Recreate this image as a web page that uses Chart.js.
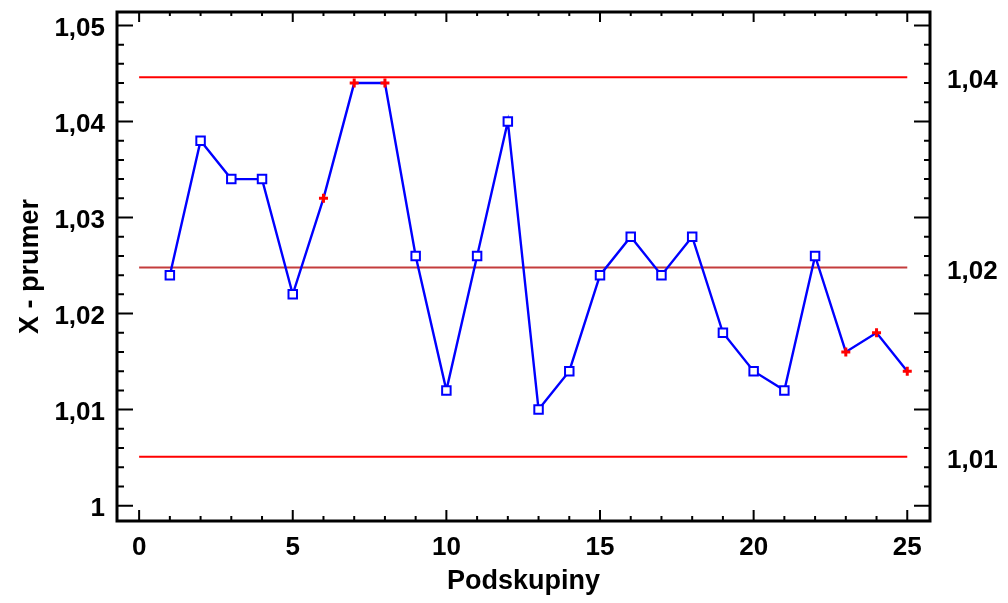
<!DOCTYPE html>
<html><head><meta charset="utf-8">
<script src="https://cdn.jsdelivr.net/npm/chart.js@4.4.1/dist/chart.umd.min.js"></script>
<style>html,body{margin:0;background:#fff}</style>
</head><body>
<canvas id="c" width="1008" height="603"></canvas>
<script>
// data
const podskupiny = [1,2,3,4,5,6,7,8,9,10,11,12,13,14,15,16,17,18,19,20,21,22,23,24,25];
const xPrumer = [1.024,1.038,1.034,1.034,1.022,1.032,1.044,1.044,1.026,1.012,1.026,1.040,1.010,
                 1.014,1.024,1.028,1.024,1.028,1.018,1.014,1.012,1.026,1.016,1.018,1.014];
const flagged = [6,7,8,23,24,25];          // points drawn as red crosses
const UCL = 1.0446, CL = 1.0248, LCL = 1.0051;
const xTicks = [0,5,10,15,20,25];
const yTicks = [1,1.01,1.02,1.03,1.04,1.05];
const rightTicks = [LCL, CL, UCL];
const rightLabels = ['1,01','1,02','1,04'];

const FONT = {family:"'Liberation Sans', Arial, sans-serif", size:26, weight:'bold'};
const TFONT = {family:"'Liberation Sans', Arial, sans-serif", size:27, weight:'bold'};
const fmt = v => String(Math.round(v*100)/100).replace('.', ',');

// inward tick marks + frame, drawn from the chart scales
const frameTicks = {
  id:'frameTicks',
  afterDraw(chart){
    const {ctx, chartArea:a, scales:{x, y}} = chart;
    ctx.save();
    ctx.strokeStyle = '#000';
    ctx.lineWidth = 2;
    ctx.beginPath();
    for(let v=0; v<=25; v++){
      const px = x.getPixelForValue(v), major = v%5===0;
      ctx.moveTo(px, a.bottom); ctx.lineTo(px, a.bottom-(major?11:5));
      ctx.moveTo(px, a.top);    ctx.lineTo(px, a.top+(major?10:4));
    }
    for(let i=0; i<=25; i++){
      const py = y.getPixelForValue(1+i*0.002), major = i%5===0;
      ctx.moveTo(a.left, py);  ctx.lineTo(a.left+(major?16:7), py);
      ctx.moveTo(a.right, py); ctx.lineTo(a.right-(major?16:6), py);
    }
    ctx.stroke();
    ctx.lineWidth = 3;
    ctx.strokeRect(a.left, a.top, a.width, a.height);
    ctx.restore();
  }
};

const limitLine = (v, color) => ({
  data:[{x:0,y:v},{x:25,y:v}], borderColor:color, borderWidth:2,
  pointRadius:0, order:1
});
const noPadV = s => { s.paddingTop = 0; s.paddingBottom = 0; };
const isFlag = c => flagged.includes(podskupiny[c.dataIndex]);

new Chart(document.getElementById('c').getContext('2d'), {
  type:'line',
  data:{ datasets:[
    { data: podskupiny.map((p,i)=>({x:p, y:xPrumer[i]})),
      borderColor:'#0000ff', borderWidth:2.4, order:0,
      pointStyle: c => isFlag(c) ? 'cross' : 'rect',
      pointRadius: c => isFlag(c) ? 4.5 : 6,
      pointBorderWidth: c => isFlag(c) ? 3 : 2,
      pointBorderColor: c => isFlag(c) ? '#ff0000' : '#0000ff',
      pointBackgroundColor:'#ffffff' },
    limitLine(UCL, '#ff0000'),
    limitLine(CL, '#c43c3c'),
    limitLine(LCL, '#ff0000')
  ]},
  options:{
    responsive:false, animation:false,
    layout:{ padding:{top:12, left:0, right:0, bottom:0} },
    plugins:{ legend:{display:false}, tooltip:{enabled:false} },
    scales:{
      x:{ type:'linear', position:'bottom', min:-0.72, max:25.74,
        grid:{display:false, drawTicks:false}, border:{display:false},
        ticks:{ color:'#000', font:FONT, padding:11, maxRotation:0, callback:v=>String(v) },
        afterBuildTicks: s => { s.ticks = xTicks.map(v=>({value:v})); },
        afterFit: s => { s.height = 82; s.paddingLeft = 0; s.paddingRight = 0; },
        title:{ display:true, text:'Podskupiny', color:'#000', font:TFONT, padding:{top:0, bottom:5} } },
      y:{ type:'linear', position:'left', min:0.9984, max:1.0514,
        grid:{display:false, drawTicks:false}, border:{display:false},
        ticks:{ color:'#000', font:FONT, padding:12, labelOffset:3, callback:v=>fmt(v) },
        afterBuildTicks: s => { s.ticks = yTicks.map(v=>({value:v})); },
        afterFit: s => { s.width = 117; noPadV(s); },
        title:{ display:true, text:'X - prumer', color:'#000', font:TFONT, padding:{top:14, bottom:0} } },
      y2:{ type:'linear', position:'right', min:0.9984, max:1.0514,
        grid:{display:false, drawTicks:false}, border:{display:false},
        ticks:{ color:'#000', font:FONT, padding:17, labelOffset:4, callback:(v,i)=>rightLabels[i] },
        afterBuildTicks: s => { s.ticks = rightTicks.map(v=>({value:v})); },
        afterFit: s => { s.width = 78; noPadV(s); } }
    }
  },
  plugins:[frameTicks]
});
</script>
</body></html>
